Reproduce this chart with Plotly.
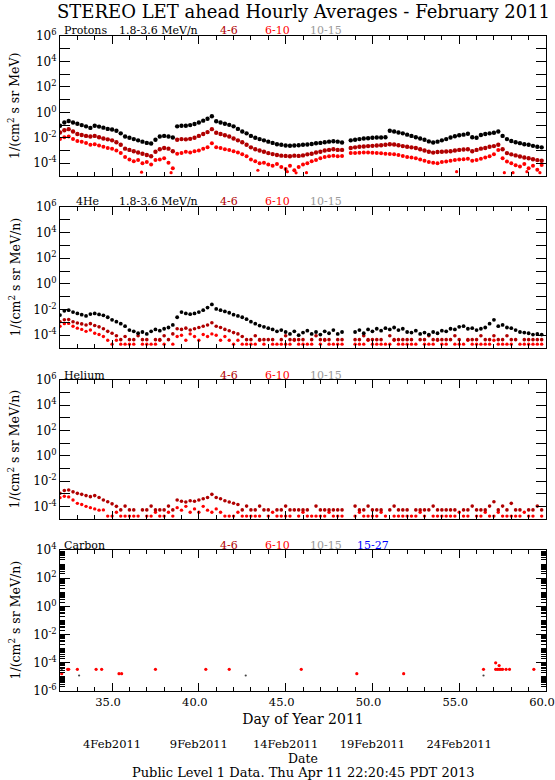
import numpy as np
import plotly.graph_objects as go

# six-hourly samples, day of year 32.0 .. 59.75
doy = 32 + np.arange(0, 28 * 24, 6) / 24

# log10 flux, one row per day (00, 06, 12, 18 UT); None = no point
prot_18_36 = [
    -1.05, -0.80, -0.68, -0.80,
    -0.90, -1.00, -1.10, -1.22,
    -1.05, -1.12, -1.20, -1.30,
    -1.35, -1.45, -1.65, -1.90,
    -2.00, -2.10, -2.20, -2.30,
    -2.40, -2.45, -2.15, -1.90,
    -1.85, -1.90, -1.97, -1.10,
    -1.05, -1.05, -1.00, -0.92,
    -0.80, -0.65, -0.50, -0.30,
    -0.70, -0.80, -0.90, -0.98,
    -1.10, -1.30, -1.50, -1.65,
    -1.85, -2.00, -2.10, -2.20,
    -2.30, -2.40, -2.50, -2.55,
    -2.60, -2.62, -2.60, -2.58,
    -2.55, -2.52, -2.48, -2.43,
    -2.40, -2.35, -2.30, -2.27,
    -2.30, -2.37, None, -2.20,
    -2.15, -2.10, -2.05, -2.03,
    -2.00, -1.98, -1.97, -1.95,
    -1.45, -1.50, -1.58, -1.65,
    -1.75, -1.85, -1.95, -2.05,
    -2.15, -2.28, -2.37, -2.30,
    -2.20, -2.10, -1.97, -1.88,
    -1.80, -1.75, -1.68, -1.95,
    -2.00, -1.78, -1.70, -1.65,
    -1.60, -1.50, -1.85, -2.10,
    -2.25, -2.35, -2.42, -2.50,
    -2.55, -2.63, -2.70, -2.75,
]
prot_4_6 = [
    -1.58, -1.40, -1.32, -1.50,
    -1.70, -1.78, -1.85, -1.90,
    -1.85, -1.95, -2.05, -2.12,
    -2.20, -2.35, -2.55, -2.85,
    -2.95, -3.05, -3.15, -3.25,
    -3.35, -3.45, -3.10, -2.90,
    -2.80, -2.85, -3.05, -2.15,
    -2.10, -2.12, -2.08, -2.00,
    -1.85, -1.70, -1.55, -1.32,
    -1.60, -1.70, -1.80, -1.90,
    -2.05, -2.20, -2.35, -2.55,
    -2.75, -2.90, -3.00, -3.10,
    -3.20, -3.28, -3.35, -3.40,
    -3.42, -3.45, -3.40, -3.42,
    -3.38, -3.30, -3.25, -3.15,
    -3.10, -3.00, -2.95, -2.90,
    -2.95, -2.95, None, -2.80,
    -2.75, -2.70, -2.68, -2.65,
    -2.63, -2.60, -2.58, -2.55,
    -2.50, -2.52, -2.58, -2.65,
    -2.70, -2.75, -2.80, -2.90,
    -3.00, -3.10, -3.16, -3.12,
    -3.10, -3.08, -3.05, -3.00,
    -2.95, -2.92, -2.90, -3.05,
    -2.95, -2.85, -2.80, -2.70,
    -2.65, -2.55, -2.90, -3.20,
    -3.30, -3.38, -3.47, -3.55,
    -3.60, -3.68, -3.75, -3.80,
]
prot_6_10 = [
    -2.10, -1.95, -1.90, -2.10,
    -2.25, -2.30, -2.40, -2.55,
    -2.50, -2.60, -2.70, -2.80,
    -2.85, -3.00, -3.20, -3.50,
    -3.70, -3.85, -3.75, -4.00,
    -3.90, -4.10, -3.75, -3.70,
    -3.60, -3.95, -4.40, -3.25,
    -3.20, -3.10, -3.15, -3.05,
    -3.00, -2.85, -2.75, -2.42,
    -2.75, -2.80, -2.90, -2.95,
    -3.05, -3.15, -3.30, -3.45,
    -3.70, -3.85, -4.00, -3.95,
    -4.10, -4.20, -4.05, -4.30,
    -4.45, -4.20, -4.55, -4.30,
    -4.10, -4.00, -3.85, -3.75,
    -3.60, -3.50, -3.45, -3.40,
    -3.45, -3.42, None, -3.20,
    -3.20, -3.18, -3.15, -3.16,
    -3.18, -3.20, -3.22, -3.25,
    -3.28, -3.30, -3.35, -3.42,
    -3.50, -3.55, -3.60, -3.70,
    -3.80, -3.90, -3.95, -4.00,
    -3.90, -3.87, -3.80, -3.75,
    -3.70, -3.68, -3.65, -3.80,
    -3.75, -3.65, -3.55, -3.45,
    -3.30, -2.95, -3.60, -3.87,
    -4.00, -4.15, -4.26, -4.05,
    -4.40, -4.20, -4.50, -4.13,
]
# isolated low points of the 6-10 MeV proton channel
prot_6_10_low_doy = [36.7, 38.4, 43.4, 45.1, 45.6, 46.2, 54.85, 57.6, 58.1, 58.9, 59.65]
prot_6_10_low = [-4.70, -4.74, -4.55, -4.66, -4.75, -4.74, -4.66, -4.74, -4.74, -4.66, -4.74]

he4_18_36 = [
    -2.43, -2.10, -2.05, -2.20,
    -2.30, -2.40, -2.50, -2.35,
    -2.30, -2.38, -2.45, -2.60,
    -2.80, -2.95, -3.10, -3.30,
    -3.60, -3.70, -3.85, -3.75,
    -3.90, -3.70, -3.55, -3.65,
    -3.50, -3.40, -3.20, -2.60,
    -2.20, -2.30, -2.36, -2.30,
    -2.20, -2.05, -1.85, -1.60,
    -1.95, -2.05, -2.15, -2.25,
    -2.40, -2.50, -2.60, -2.75,
    -2.95, -3.10, -3.25, -3.35,
    -3.45, -3.55, -3.70, -3.60,
    -3.75, -3.90, -3.70, -4.00,
    -3.80, -3.65, -3.90, -3.75,
    -3.95, -3.70, -3.85, -3.60,
    -3.90, -3.75, None, None,
    -3.75, -3.60, -3.85, -3.55,
    -3.70, -3.50, -3.65, -3.45,
    -3.55, -3.40, -3.60, -3.50,
    -3.75, -3.80, -3.65, -3.90,
    -3.80, -3.95, -3.75, -3.85,
    -3.65, -3.70, -3.50, -3.55,
    -3.35, -3.30, -3.50, -3.45,
    -3.60, -3.50, -3.40, -3.10,
    -2.80, -3.30, -3.20, -3.40,
    -3.45, -3.60, -3.75, -3.80,
    -3.85, -3.95, -3.90, -3.95,
]
he4_4_6 = [
    -2.95, -2.80, -2.78, -2.95,
    -3.05, -3.12, -3.20, -3.10,
    -3.25, -3.35, -3.50, -3.70,
    -3.85, -4.05, -4.35, -4.10,
    -4.35, -4.35, -4.05, -4.35,
    -4.35, None, -4.35, -4.35,
    -4.05, -4.35, -3.90, -3.50,
    -3.55, -3.45, -3.60, -3.50,
    -3.40, -3.30, -3.20, -3.03,
    -3.30, -3.40, -3.55, -3.66,
    -3.80, -3.90, -4.10, -4.35,
    -4.35, -4.05, -4.35, -4.35,
    -4.35, -4.35, None, -4.35,
    -4.05, -4.35, -4.35, -4.35,
    -4.35, None, -4.35, -4.05,
    -4.35, -4.35, -4.35, None,
    -4.35, -4.35, None, None,
    -4.35, -4.35, -4.05, -4.35,
    -4.35, -4.35, -4.35, None,
    -4.05, -4.35, -4.35, -4.35,
    -4.35, -4.35, None, -4.35,
    -4.35, -4.05, -4.35, -4.35,
    -4.35, -4.35, -4.35, -4.05,
    -4.35, None, -4.35, -4.35,
    -4.35, -4.05, -4.35, -4.35,
    -4.05, -4.35, -4.35, -4.05,
    -4.35, -4.35, None, -4.35,
    -4.35, -4.35, -4.35, -4.35,
]
he4_6_10 = [
    -3.30, -3.10, -3.08, -3.30,
    -3.45, -3.55, -3.70, -3.60,
    -3.85, -3.95, -4.10, -4.40,
    -4.70, -4.40, -4.70, -4.70,
    -4.70, -4.70, None, -4.70,
    -4.70, -4.70, -4.70, -4.40,
    -4.70, None, -4.70, -4.10,
    -4.00, -4.40, -3.90, -4.10,
    -4.40, -3.95, -4.10, -3.90,
    -4.00, -4.40, -4.10, -4.40,
    -4.70, -4.40, -4.70, -4.70,
    -4.70, -4.70, -4.40, -4.70,
    None, -4.70, -4.70, -4.70,
    -4.70, -4.70, -4.40, -4.70,
    -4.70, -4.70, -4.70, None,
    -4.70, -4.40, -4.70, -4.70,
    -4.70, -4.70, None, None,
    -4.70, -4.70, -4.70, -4.40,
    -4.70, -4.70, -4.70, -4.70,
    -4.70, -4.40, -4.70, -4.70,
    -4.70, -4.70, -4.70, None,
    -4.70, -4.70, -4.70, -4.40,
    -4.70, -4.70, None, -4.70,
    -4.70, -4.70, -4.40, -4.70,
    -4.70, -4.70, -4.70, -4.70,
    -4.40, -4.70, -4.70, -4.70,
    -4.70, None, -4.70, -4.70,
    -4.70, -4.70, -4.70, -4.70,
]

hel_4_6 = [
    -2.97, -2.75, -2.70, -2.85,
    -2.97, -3.05, -3.15, -3.23,
    -3.15, -3.30, -3.50, -3.63,
    -3.80, -4.00, -4.28, -3.98,
    -4.28, -4.28, None, -4.28,
    -4.28, -3.98, -4.28, -4.28,
    -4.28, -3.98, -4.28, -3.50,
    -3.60, -3.65, -3.55, -3.60,
    -3.50, -3.40, -3.30, -3.05,
    -3.30, -3.40, -3.55, -3.65,
    -3.75, -3.85, -4.28, -3.98,
    -4.28, -4.28, -3.98, -4.28,
    -4.28, None, -4.28, -4.28,
    -3.98, -4.28, -4.28, -4.28,
    -4.28, -4.28, None, -3.98,
    -4.28, -4.28, -4.28, -4.28,
    -4.28, -4.28, None, None,
    -3.98, -4.28, -4.28, -3.98,
    -4.28, -4.28, -4.28, None,
    -4.28, -3.98, -4.28, -4.28,
    -4.28, None, -4.28, -4.28,
    -4.28, -4.28, -3.98, -4.28,
    -4.28, -4.28, -4.28, -4.28,
    None, -4.28, -4.28, -3.98,
    -4.28, -4.28, -4.28, -3.98,
    -3.63, -4.28, -3.98, -4.28,
    -3.76, -4.28, -4.28, None,
    -4.28, -4.28, -3.98, -4.28,
]
hel_6_10 = [
    -3.31, -3.20, -3.25, -3.50,
    -3.76, -3.85, -4.00, -4.10,
    -4.20, -4.30, -4.28, -4.77,
    -4.77, -4.47, -4.77, -4.77,
    -4.77, -4.77, -4.77, None,
    -4.77, -4.77, -4.47, -4.77,
    -4.77, -4.47, -4.77, -4.10,
    -4.30, -4.00, -4.47, -4.20,
    -4.47, -4.00, -4.30, -4.47,
    -4.20, -4.47, -4.77, -4.77,
    -4.77, -4.47, -4.77, -4.77,
    -4.77, -4.77, -4.77, None,
    -4.77, -4.47, -4.77, -4.77,
    -4.77, -4.77, None, -4.77,
    -4.47, -4.77, -4.77, -4.77,
    -4.77, -4.77, -4.47, -4.77,
    -4.77, -4.77, None, None,
    -4.77, -4.47, -4.77, -4.77,
    -4.77, -4.77, -4.47, -4.77,
    None, -4.77, -4.77, -4.77,
    -4.77, -4.77, -4.77, -4.47,
    -4.77, None, -4.77, -4.77,
    -4.77, -4.77, -4.77, -4.77,
    -4.47, -4.77, -4.77, None,
    -4.77, -4.77, -4.47, -4.77,
    -4.77, -4.47, -4.77, -4.77,
    -4.77, -4.77, -4.77, -4.47,
    -4.77, -4.77, None, -4.77,
]

# carbon: only a few isolated counts
carb_6_10_doy = [32.1, 32.44, 32.5, 33.0, 34.08, 34.4, 35.4, 35.55, 37.5, 40.4, 41.75,
                 45.9, 49.1, 51.8, 56.4, 57.1, 57.2, 57.3, 57.4, 57.5, 57.7, 57.9, 59.3]
carb_6_10 = [-4.77, -4.46, -4.46, -4.46, -4.46, -4.46, -4.77, -4.77, -4.46, -4.46, -4.46,
             -4.46, -4.77, -4.77, -4.46, -4.46, -4.46, -4.46, -4.46, -4.46, -4.46, -4.46, -4.46]
carb_4_6_doy = [57.1, 57.3]
carb_4_6 = [-4.0, -4.2]
carb_10_15_doy = [32.1, 33.1, 42.7, 56.4]
carb_10_15 = [-4.45, -4.9, -4.9, -4.9]

# axis labels
day_ticks = [35, 40, 45, 50, 55]
date_labels = ["4Feb2011", "9Feb2011", "14Feb2011", "19Feb2011", "24Feb2011"]

BLACK = "#000000"
DKRED = "#b00000"
RED = "#ff0000"
GRAY = "#999999"
BLUE = "#0000ff"
FONT = "DejaVu Serif"

W, H = 555, 780
# panel boxes in pixels (top, bottom)
panels = [(36, 176), (207, 348), (380, 519), (550, 691)]
x_left, x_right = 60, 546


def flux(vals):
    return [None if v is None else 10 ** v for v in vals]


fig = go.Figure()


def add(x, y, color, n, size=4.4):
    fig.add_trace(go.Scatter(
        x=x, y=flux(y), mode="markers",
        marker=dict(color=color, size=size, symbol="circle", line=dict(width=0)),
        xaxis="x" if n == 1 else "x%d" % n,
        yaxis="y" if n == 1 else "y%d" % n,
        showlegend=False, hoverinfo="skip"))


add(doy, prot_6_10, RED, 1, 4.0)
add(prot_6_10_low_doy, prot_6_10_low, RED, 1, 3.2)
add(doy, prot_4_6, DKRED, 1)
add(doy, prot_18_36, BLACK, 1)

add(doy, he4_6_10, RED, 2, 3.4)
add(doy, he4_4_6, DKRED, 2, 3.6)
add(doy, he4_18_36, BLACK, 2, 3.8)

add(doy, hel_6_10, RED, 3, 3.4)
add(doy, hel_4_6, DKRED, 3, 3.6)

add(carb_10_15_doy, carb_10_15, "#444444", 4, size=2.2)
add(carb_6_10_doy, carb_6_10, RED, 4, 3.2)
add(carb_4_6_doy, carb_4_6, RED, 4, 3.2)

# empty trace so the date axis is drawn
fig.add_trace(go.Scatter(x=[], y=[], xaxis="x5", yaxis="y4", showlegend=False))

layout = dict(
    width=W, height=H, template="none",
    paper_bgcolor="white", plot_bgcolor="white",
    margin=dict(l=0, r=0, t=0, b=0),
    font=dict(family=FONT, color="black", size=12),
)

xdom = [x_left / W, x_right / W]
for i, (top, bot) in enumerate(panels):
    n = i + 1
    sfx = "" if n == 1 else str(n)
    lo, hi = (-6, 4) if n == 4 else (-5, 6)
    even = [e for e in range(lo, hi + 1) if e % 2 == 0]
    odd = [e for e in range(lo, hi + 1) if e % 2 != 0]
    yax = dict(
        domain=[1 - bot / H, 1 - top / H], type="log", range=[lo, hi],
        anchor="x" + sfx, tickmode="array",
        tickvals=[10 ** e for e in even],
        ticktext=["10<sup>%d</sup>" % e for e in even],
        ticks="inside", ticklen=10, tickwidth=1, tickcolor="black",
        showline=True, linecolor="black", linewidth=1, mirror="ticks",
        showgrid=False, zeroline=False, automargin=False,
        tickfont=dict(size=12, family=FONT),
    )
    if n == 4:
        mv = [m * 10 ** e for e in range(lo, hi) for m in range(2, 10)]
        yax["minor"] = dict(ticks="inside", ticklen=5, tickmode="array",
                            tickvals=mv + [10 ** e for e in odd],
                            tickcolor="black", showgrid=False)
    else:
        yax["minor"] = dict(ticks="inside", ticklen=10, tickmode="array",
                            tickvals=[10 ** e for e in odd],
                            tickcolor="black", showgrid=False)
    xax = dict(
        domain=xdom, range=[32, 60], anchor="y" + sfx,
        tick0=0, dtick=5, ticks="inside", ticklen=8, tickwidth=1, tickcolor="black",
        minor=dict(dtick=1, ticks="inside", ticklen=4, tickcolor="black", showgrid=False),
        showline=True, linecolor="black", linewidth=1, mirror="ticks",
        showgrid=False, zeroline=False, automargin=False,
        showticklabels=(n == 4), tickformat=".1f", ticklabeloverflow="allow",
        ticklabelshift=-4,
        tickfont=dict(size=11.5, family=FONT),
    )
    if n == 4:
        xax["title"] = dict(text="Day of Year 2011", font=dict(size=14, family=FONT), standoff=6)
    layout["xaxis" + sfx] = xax
    layout["yaxis" + sfx] = yax

layout["xaxis5"] = dict(
    overlaying="x4", anchor="free", position=1 - 735 / H, range=[32, 60],
    tickmode="array", tickvals=day_ticks, ticktext=date_labels,
    ticks="", showline=False, showgrid=False, zeroline=False, automargin=False,
    tickfont=dict(size=11.5, family=FONT),
)

fig.update_layout(**layout)


def note(text, xpx, ypx, size, color=BLACK, xanchor="center", angle=0):
    fig.add_annotation(text=text, x=xpx / W, y=1 - ypx / H, xref="paper", yref="paper",
                       xanchor=xanchor, yanchor="middle", textangle=angle,
                       showarrow=False, font=dict(size=size, color=color, family=FONT))


# title, panel headers, y titles, footer
note("STEREO LET ahead Hourly Averages - February 2011", (x_left + x_right) / 2, 12, 18)

headers = [
    [("Protons", 62, BLACK), ("1.8-3.6 MeV/n", 117, BLACK), ("4-6", 218, DKRED),
     ("6-10", 263, RED), ("10-15", 308, GRAY)],
    [("4He", 74, BLACK), ("1.8-3.6 MeV/n", 117, BLACK), ("4-6", 218, DKRED),
     ("6-10", 263, RED), ("10-15", 308, GRAY)],
    [("Helium", 62, BLACK), ("4-6", 218, DKRED), ("6-10", 263, RED), ("10-15", 308, GRAY)],
    [("Carbon", 62, BLACK), ("4-6", 218, DKRED), ("6-10", 263, RED), ("10-15", 308, GRAY),
     ("15-27", 355, BLUE)],
]
ytitles = ["1/(cm<sup>2</sup> s sr MeV)", "1/(cm<sup>2</sup> s sr MeV/n)",
           "1/(cm<sup>2</sup> s sr MeV/n)", "1/(cm<sup>2</sup> s sr MeV/n)"]
for (top, bot), hdr, yt in zip(panels, headers, ytitles):
    for text, xpx, col in hdr:
        note(text, xpx, top - 5, 11, col, xanchor="left")
    note(yt, 14, (top + bot) / 2, 12.5, angle=-90)

note("Date", (x_left + x_right) / 2, 758, 12.5)
note("Public Level 1 Data. Thu Apr 11 22:20:45 PDT 2013", (x_left + x_right) / 2, 772, 13)

fig.write_html("out.html", config={"displayModeBar": False},
               post_script="document.body.style.margin='0px';")
